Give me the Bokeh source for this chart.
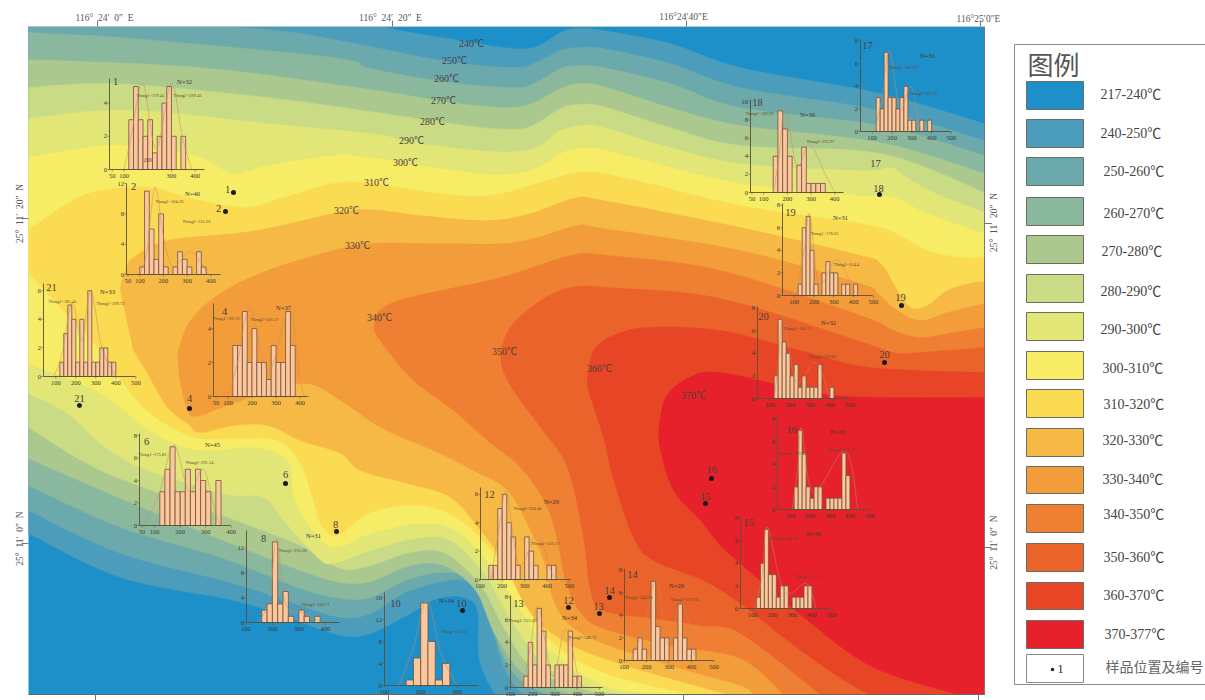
from bokeh.plotting import figure
from bokeh.embed import file_html
from bokeh.resources import INLINE
from bokeh.models import Range1d
from bokeh.core.properties import value
import math

# ---------- legend ----------
legend_labels = ["217-240℃","240-250℃","250-260℃","260-270℃","270-280℃","280-290℃","290-300℃",
                 "300-310℃","310-320℃","320-330℃","330-340℃","340-350℃","350-360℃","360-370℃","370-377℃"]
band_colors = ["#1e90c9","#4c9dbc","#6ca9ac","#8ab89e","#abc98e","#c9db85","#e2e676","#f6ec66",
               "#fbdb52","#f7b945","#f39c3a","#ee7f33","#e9632a","#e84527","#e6212c"]
legend_sample_label = "样品位置及编号"

# ---------- isotherms (upper edge and lower edge of the area hotter than T) ----------
iso_240_up = [(385,26),(400,30),(460,40),(503,47),(533,47),(560,32),(577,28),(603,30),(670,43),(740,67),(880,93),(984,123)]
iso_240_lo = [(28,533),(120,577),(233,600),(290,618),(340,635),(370,633),(410,613),(437,598),(463,597),(477,610),(478,653),(485,677),(495,694)]
iso_250_up = [(230,26),(300,33),(370,46),(453,62),(513,67),(533,63),(560,50),(577,47),(603,48),(670,63),(740,87),(880,110),(984,140)]
iso_250_lo = [(28,510),(120,553),(233,583),(300,605),(340,617),(370,613),(403,593),(437,582),(463,580),(483,595),(492,630),(505,670),(522,694)]
iso_260_up = [(28,32),(133,38),(333,57),(370,68),(450,82),(513,87),(533,83),(560,68),(577,65),(603,67),(670,83),(740,107),(880,125),(984,155)]
iso_260_lo = [(28,485),(120,527),(220,557),(300,588),(340,598),(370,597),(405,580),(440,572),(470,578),(490,610),(500,650),(520,680),(547,694)]
iso_270_up = [(28,59),(200,67),(370,89),(450,102),(507,107),(533,102),(560,88),(580,83),(603,86),(670,107),(740,125),(880,142),(984,173)]
iso_270_lo = [(28,458),(120,498),(210,535),(300,570),(340,582),(370,581),(410,565),(443,565),(475,590),(495,635),(525,675),(570,694)]
iso_280_up = [(28,87),(117,83),(267,97),(370,111),(450,123),(493,128),(527,127),(560,108),(577,104),(603,106),(670,127),(740,145),(880,153),(984,192)]
iso_280_lo = [(28,427),(100,470),(200,507),(300,545),(340,568),(370,565),(410,552),(445,553),(480,585),(505,630),(535,670),(600,694)]
iso_290_up = [(28,118),(100,110),(167,112),(267,123),(370,133),(420,143),(493,151),(533,148),(560,130),(583,125),(603,127),(670,147),(740,163),(860,170),(890,167),(903,175),(933,192),(984,212)]
iso_290_lo = [(28,393),(67,413),(100,443),(140,467),(223,493),(263,497),(283,520),(317,557),(333,563),(370,550),(415,538),(450,540),(485,575),(512,622),(545,665),(590,687),(627,694)]
iso_300_up = [(28,157),(100,145),(150,147),(200,157),(233,173),(267,165),(333,155),(370,157),(453,170),(503,174),(537,167),(567,150),(597,148),(637,158),(740,183),(860,195),(877,195),(897,198),(927,213),(984,233)]
iso_300_lo = [(28,363),(100,393),(153,433),(200,450),(253,447),(287,460),(293,493),(307,523),(333,547),(370,533),(420,523),(455,530),(490,565),(520,610),(550,650),(603,685),(657,694)]
iso_310_up = [(28,230),(67,203),(100,190),(150,187),(187,197),(243,207),(283,197),(333,183),(370,183),(437,193),(490,195),(537,183),(580,172),(623,177),(740,205),(860,223),(893,232),(927,250),(960,257),(984,257)]
iso_310_lo = [(28,272),(60,307),(100,350),(123,383),(143,407),(173,428),(200,438),(233,438),(277,440),(300,463),(313,500),(320,523),(337,535),(370,512),(420,505),(460,520),(495,555),(525,600),(550,640),(603,672),(690,694)]
iso_320_up = [(133,350),(122,300),(120,287),(125,270),(133,257),(167,240),(233,233),(267,228),(333,213),(370,209),(420,215),(487,220),(530,213),(573,198),(603,200),(740,227),(860,255),(880,263),(893,283),(903,300),(913,308),(927,305),(947,290),(973,282),(984,282)]
iso_320_lo = [(133,350),(147,373),(167,407),(187,423),(200,432),(233,425),(267,425),(300,440),(340,453),(360,470),(407,483),(450,497),(480,530),(505,565),(525,605),(550,632),(603,658),(727,694)]
iso_330_up = [(178,365),(178,350),(190,320),(220,293),(267,270),(333,250),(370,243),(437,243),(503,243),(537,237),(577,225),(603,228),(740,250),(860,283),(877,293),(897,310),(920,320),(947,312),(984,303)]
iso_330_lo = [(178,365),(180,383),(188,412),(200,415),(227,405),(300,383),(340,400),(380,427),(433,450),(473,470),(507,490),(530,530),(545,565),(553,600),(570,625),(603,643),(680,668),(740,685),(753,694)]
iso_340_up = [(373,330),(390,303),(500,277),(570,255),(607,255),(720,270),(860,315),(893,330),(920,337),(953,332),(984,327)]
iso_340_lo = [(373,330),(387,350),(413,380),(453,410),(487,440),(520,467),(545,503),(557,540),(565,580),(580,612),(603,628),(670,645),(740,658),(783,694)]
iso_350_up = [(500,353),(502,343),(513,323),(540,300),(570,287),(607,287),(720,298),(860,341),(893,352),(920,352),(984,347)]
iso_350_lo = [(500,353),(502,368),(513,390),(540,427),(567,467),(583,537),(590,590),(603,610),(653,618),(700,625),(740,633),(820,694)]
iso_360_up = [(587,378),(593,350),(613,335),(647,327),(720,330),(800,350),(870,367),(984,372)]
iso_360_lo = [(587,378),(588,390),(603,437),(612,475),(633,537),(653,560),(703,580),(740,603),(783,637),(833,673),(868,694)]
iso_370_up = [(658,430),(665,397),(687,378),(720,372),(820,393),(887,397),(984,397)]
iso_370_lo = [(658,430),(660,450),(673,490),(700,520),(720,545),(740,563),(807,620),(873,667),(957,694)]

iso_all = [(iso_240_up,iso_240_lo),(iso_250_up,iso_250_lo),(iso_260_up,iso_260_lo),(iso_270_up,iso_270_lo),
           (iso_280_up,iso_280_lo),(iso_290_up,iso_290_lo),(iso_300_up,iso_300_lo),(iso_310_up,iso_310_lo),
           (iso_320_up,iso_320_lo),(iso_330_up,iso_330_lo),(iso_340_up,iso_340_lo),(iso_350_up,iso_350_lo),
           (iso_360_up,iso_360_lo),(iso_370_up,iso_370_lo)]

iso_labels = ["240℃","250℃","260℃","270℃","280℃","290℃","300℃","310℃","320℃","330℃","340℃","350℃","360℃","370℃"]
iso_label_x = [471,454,446,443,432,411,405,376,346,357,379,504,599,693]
iso_label_y = [43,60,78,100,121,140,162,182,210,245,317,351,368,395]

# ---------- sample points ----------
pt_names = ["1","2","21","4","6","8","10","12","13","14","15","16","18","19","20"]
pt_x = [233,225,79,189,285,336,462,568,599,609,705,711,879,901,884]
pt_y = [192,211,405,408,483,531,610,607,613,597,503,478,194,305,362]
pt_lab_x = [227,218,79,189,285,335,461,568,598,609,705,711,878,900,884]
pt_lab_y = [189,208,398,398,474,524,603,600,606,590,496,469,188,297,354]

# ---------- histograms ----------
hist_ids = ["1","2","21","4","6","8","10","12","13","14","15","16","17","18","19","20"]
hist_n   = [32,40,33,37,45,31,34,29,34,29,30,33,31,36,31,32]
hist_start = [120,100,120,120,120,160,160,140,160,140,120,120,120,140,120,120]
counts = {
 "1":[3,5,3,2,3,1,2,4,5,2,0,2],
 "2":[1,11,6,2,8,1,0,1,3,2,1,0,3,1],
 "21":[1,3,5,4,1,4,1,6,1,1,2,2,1,1],
 "4":[3,3,5,2,4,2,2,1,3,2,2,5,3],
 "6":[3,5,7,3,3,5,3,5,4,3,0,4],
 "8":[2,3,13,3,5,1,0,2,1,0,1],
 "10":[1,5,15,8,1,4],
 "12":[1,1,5,6,4,3,1,0,3,2,1,0,0,1,1],
 "13":[1,4,2,7,5,2,0,2,2,2,5,1,1],
 "14":[1,2,1,0,7,3,2,2,0,2,5,2,1,1],
 "15":[1,4,7,3,3,1,2,2,0,1,1,1,2,2],
 "16":[2,7,5,2,1,2,2,0,1,1,1,1,5,3],
 "17":[3,2,7,3,3,2,3,4,1,1,0,1,0,1],
 "18":[4,9,7,4,0,3,5,1,1,1,1],
 "19":[1,6,7,4,1,0,2,3,2,2,0,1,1,0,1],
 "20":[2,7,5,4,2,3,1,2,1,1,1,3,0,0,1],
}
# faint fitted curve over each histogram: (temperature, count)
fit_curves = {
 "1":[(100,0),(130,2),(179,5.2),(235,1.2),(299,5.2),(345,2),(385,0)],
 "2":[(100,0),(130,3),(164,11.5),(200,5),(240,1),(315,3),(390,0)],
 "21":[(90,0),(130,1.5),(181,5.2),(230,2.5),(275,6),(330,2),(400,0)],
 "4":[(100,0),(140,2),(191,5.2),(270,1.5),(356,5.2),(400,1),(420,0)],
 "6":[(60,0),(120,3),(175,7.2),(235,3),(291,5),(340,1),(360,0)],
 "8":[(150,0),(190,4),(216,13.5),(250,3),(318,1.5),(390,0)],
 "10":[(140,0),(180,7),(217,15.5),(255,6),(300,0)],
 "12":[(150,0),(190,4),(220,6.2),(275,1),(356,3.2),(420,0.5),(450,0)],
 "13":[(150,0),(190,3.5),(225,7.2),(290,1),(348,5.2),(410,0.5),(430,0)],
 "14":[(130,0),(190,3),(244,7.2),(295,1.5),(357,5.2),(420,0)],
 "15":[(110,0),(150,3),(175,7.2),(260,1.5),(373,2.2),(420,0)],
 "16":[(110,0),(140,4),(157,7.2),(215,1.5),(377,5.2),(440,0)],
 "17":[(110,0),(150,3),(186,7.2),(240,2),(295,4),(340,0.5),(360,0)],
 "18":[(140,0),(165,4),(190,9.3),(240,3),(294,5.3),(360,2),(400,0)],
 "19":[(110,0),(150,4),(178,7.2),(225,1),(314,3.2),(400,0.5),(430,0)],
 "20":[(120,0),(140,3),(166,7.2),(230,1.5),(330,3.2),(400,0)],
}
x_tick_vals = {
 "1":[50,100,300,400],"2":[50,100,200,300,400],"21":[100,200,300,400,500],"4":[50,100,200,300,400],
 "6":[50,100,200,300,400],"8":[100,200,300,400],"10":[100,200,300],"12":[100,200,300,400,500],
 "13":[100,200,300,400,500],"14":[100,200,300,400,500],"15":[100,200,300,400,500],"16":[100,200,300,400,500],
 "17":[100,200,300,400,500],"18":[50,100,200,300,400],"19":[100,200,300,400,500],"20":[100,200,300,400,500],
}
y_tick_vals = {
 "1":[0,2,4],"2":[0,4,8,12],"21":[0,2,4,6],"4":[0,2,4],"6":[0,2,4,6,8],"8":[0,4,8,12],"10":[0,4,8,12,16],
 "12":[0,2,4,6],"13":[0,2,4,6,8],"14":[0,2,4,6,8],"15":[0,2,4,6,8],"16":[0,2,4,6,8],"17":[0,2,4,6,8],
 "18":[0,2,4,6,8,10],"19":[0,2,4,6,8],"20":[0,2,4,6,8],
}
th_text = {
 "1":("Thmg1=179.45","Thmg2=299.43"),"2":("Thmg1=164.26","Thmg2=315.26"),"21":("Thmg1=181.45","Thmg2=299.72"),
 "4":("Thmg1=191.67","Thmg2=356.57"),"6":("Thmg1=175.81","Thmg2=291.14"),"8":("Thmg1=216.38","Thmg2=318.71"),
 "10":(None,"Thmg=217.31"),"12":("Thmg1=220.40","Thmg2=356.17"),"13":("Thmg1=225.09","Thmg2=348.72"),
 "14":("Thmg1=244.98","Thmg2=357.66"),"15":("Thmg1=203.74","Thmg2=373.5"),"16":("Thmg1=157.04","Thmg2=377.41"),
 "17":("Thmg1=185.97","Thmg2=295.57"),"18":("Thmg1=189.99","Thmg2=293.97"),"19":("Thmg1=178.05","Thmg2=314.4"),
 "20":("Thmg1=166.71","Thmg2=329.82"),
}

# placement: axis_x, base_y, px per count, first bar px, px per unit, x axis end, y axis top,
# id label xy, N label xy, th1 xy, th2 xy
layout = {
 "1":(109,169,16.6,128.3,.237,204,78,(115,81),(184,81),(150,95),(187,95)),
 "2":(126,274,7.58,139.3,.2367,220,183,(133,186),(192,193),(169,201),(196,221)),
 "21":(43,376,14.3,59.3,.2,135,283,(51,287),(107,291),(62,301),(110,303)),
 "4":(213,396,17,232.3,.24,308,303,(224,311),(283,307),(226,318),(264,319)),
 "6":(139,525,11.25,159.3,.255,230,433,(146,441),(212,444),(152,454),(199,462)),
 "8":(246,622,6.2,261.3,.265,339,530,(263,538),(313,535),(292,550),(315,604)),
 "10":(384,685,5.5,405.7,.363,478,592,(395,603),(446,600),None,(454,631)),
 "12":(480,579,14.2,488.3,.224,570,487,(489,494),(551,501),(527,508),(545,543)),
 "13":(510,687,11.3,523.3,.222,602,595,(518,603),(569,617),(522,620),(582,637)),
 "14":(624,660,11.3,632.7,.224,713,568,(632,574),(676,585),(638,597),(684,599)),
 "15":(740,608,11.3,756,.198,830,515,(748,522),(813,533),(783,538),(807,576)),
 "16":(777,509,11.3,793.7,.199,868,417,(791,429),(837,431),(792,453),(841,449)),
 "17":(860,131,11.3,875.7,.198,950,39,(867,45),(927,55),(903,67),(923,93)),
 "18":(750,192,9.07,772.7,.2367,843,99,(757,102),(807,114),(759,113),(820,141)),
 "19":(782,295,11.3,797.7,.198,872,203,(790,212),(840,217),(824,233),(846,264)),
 "20":(757,398,11.3,773.7,.199,848,306,(763,316),(828,322),(797,328),(822,356)),
}

BIN = 20
SERIF = value("Liberation Serif, Noto Sans CJK SC")
CJK = value("Noto Sans CJK SC")
NB = "\u00a0"

def spline(pts, n=10):
    P = [pts[0]] + list(pts) + [pts[-1]]
    out = []
    for i in range(1, len(P) - 2):
        p0, p1, p2, p3 = P[i-1], P[i], P[i+1], P[i+2]
        for k in range(n):
            t = k / n
            out.append(tuple(0.5 * (2*p1[c] + (p2[c]-p0[c])*t + (2*p0[c]-5*p1[c]+4*p2[c]-p3[c])*t*t
                                    + (3*p1[c]-p0[c]-3*p2[c]+p3[c])*t**3) for c in (0, 1)))
    out.append(pts[-1])
    return out

def smooth(pts):
    return [(min(984, max(28, x)), min(694, max(26, y))) for x, y in spline(pts)]

W, H = 1205, 700
p = figure(width=W, height=H, x_range=Range1d(0, W), y_range=Range1d(H, 0),
           output_backend="svg", toolbar_location=None, min_border=0, outline_line_color=None)
p.axis.visible = False
p.grid.visible = False
p.background_fill_color = "white"
p.border_fill_color = "white"

# map
p.quad(left=[28], right=[984], top=[26], bottom=[694], fill_color=band_colors[0], line_color=None)
for (up, lo), col in zip(iso_all, band_colors[1:]):
    U, L = smooth(up), smooth(lo)
    poly = []
    if U[0][1] == 26 and U[0][0] > 28:
        poly.append((28, 26))
    poly += U
    poly.append((984, 694))
    poly += L[::-1]
    p.patch([q[0] for q in poly], [q[1] for q in poly], fill_color=col, line_color=col, line_width=0.3)

# frame and ticks
p.segment(x0=[984, 28, 28], y0=[26, 694, 26], x1=[984, 984, 984], y1=[694, 694, 26],
          line_color=["#777777", "#666666", "#cccccc"], line_width=[1, 1.2, 0.8])
p.segment(x0=[97,392,686,980,95,388,683,978,21,21,984,984], y0=[20,20,20,20,694,694,694,694,218,543,223,547],
          x1=[97,392,686,980,95,388,683,978,28,28,991,991], y1=[26,26,26,26,700,700,700,700,218,543,223,547],
          line_color="#777777", line_width=1)
sp = NB * 2
p.text(x=[104,390,683,978], y=[17,17,16,18],
       text=[f"116°{sp}24′{sp}0″{sp}E", f"116°{sp}24′{sp}20″{sp}E", "116°24′40″E", "116°25′0″E"],
       text_font=SERIF, text_font_size="9.5px", text_color="#555555", text_align="center", text_baseline="middle")
p.text(x=[19,19,993,993], y=[213,538,222,542],
       text=[f"25°{sp}11′{sp}20″{sp}N", f"25°{sp}11′{sp}0″{sp}N", f"25°{sp}11′{sp}20″{sp}N", f"25°{sp}11′{sp}0″{sp}N"],
       angle=math.pi/2, text_font=SERIF, text_font_size="9.5px", text_color="#555555",
       text_align="center", text_baseline="middle")

# isotherm labels
p.text(x=iso_label_x, y=iso_label_y, text=iso_labels, text_font=SERIF, text_font_size="10px",
       text_color="#4a4038", text_align="center", text_baseline="middle")

# histograms
for hid, n, start in zip(hist_ids, hist_n, hist_start):
    ax, by, cpx, x0px, upx, xend, ytop, idp, np_, t1, t2 = layout[hid]
    xr = f"hx{hid}"; yr = f"hy{hid}"
    p.extra_x_ranges[xr] = Range1d(start + (0 - x0px) / upx, start + (W - x0px) / upx)
    p.extra_y_ranges[yr] = Range1d((by - H) / cpx, by / cpx)
    c = counts[hid]
    left = [start + i * BIN for i, v in enumerate(c) if v > 0]
    top = [v for v in c if v > 0]
    p.quad(left=left, right=[l + BIN for l in left], top=top, bottom=[0] * len(top),
           fill_color="#fbc79c", line_color="#74503c", line_width=0.8,
           x_range_name=xr, y_range_name=yr)
    curve = [(x, max(0, y)) for x, y in spline(fit_curves[hid], 8)]
    p.line([q[0] for q in curve], [q[1] for q in curve], line_color="#c78a62", line_width=0.5,
           x_range_name=xr, y_range_name=yr)
    xtv = x_tick_vals[hid]; ytv = y_tick_vals[hid]
    axis_col = "#5a5038"
    p.segment(x0=[ax, ax], y0=[by, by], x1=[xend, ax], y1=[by, ytop], line_color=axis_col, line_width=0.9)
    tx = [x0px + (v - start) * upx for v in xtv]
    p.segment(x0=tx, y0=[by] * len(tx), x1=tx, y1=[by + 2] * len(tx), line_color=axis_col, line_width=0.6)
    ty = [by - v * cpx for v in ytv]
    p.segment(x0=[ax - 2] * len(ty), y0=ty, x1=[ax] * len(ty), y1=ty, line_color=axis_col, line_width=0.6)
    p.text(x=xtv, y=[0] * len(xtv), text=[str(v) for v in xtv], y_offset=6, text_font=SERIF, text_font_size="6.5px",
           text_color="#3a3a30", text_align="center", text_baseline="middle", x_range_name=xr, y_range_name=yr)
    p.text(x=[ax - 2.5] * len(ty), y=ty, text=[str(v) for v in ytv], text_font=SERIF, text_font_size="6.5px",
           text_color="#3a3a30", text_align="right", text_baseline="middle")
    p.text(x=[idp[0]], y=[idp[1]], text=[hid], text_font=SERIF, text_font_size="10.5px", text_color="#4a4038",
           text_align="center", text_baseline="middle")
    p.text(x=[np_[0]], y=[np_[1]], text=[f"N={n}"], text_font=SERIF, text_font_size="6.5px", text_color="#3a3530",
           text_align="center", text_baseline="middle")
    for pos, s in zip((t1, t2), th_text[hid]):
        if pos and s:
            p.text(x=[pos[0]], y=[pos[1]], text=[s], text_font=SERIF, text_font_size="4.5px", text_color="#5c4a30",
                   text_align="center", text_baseline="middle")

# stray axis figure printed inside histogram 1
p.text(x=[147], y=[159], text=["200"], text_font=SERIF, text_font_size="5.5px", text_color="#5c4a30",
       text_align="center", text_baseline="middle")

# sample points
p.scatter(x=pt_x, y=pt_y, size=5, marker="circle", fill_color="#1a1a1a", line_color=None)
p.text(x=pt_lab_x, y=pt_lab_y, text=pt_names, text_font=SERIF, text_font_size="10.5px", text_color="#4a4038",
       text_align="center", text_baseline="middle")
p.text(x=[875], y=[163], text=["17"], text_font=SERIF, text_font_size="10.5px", text_color="#4a4038",
       text_align="center", text_baseline="middle")

# legend
p.segment(x0=[1014, 1014, 1014], y0=[44, 44, 684], x1=[1205, 1014, 1205], y1=[44, 684, 684],
          line_color="#8a8a8a", line_width=1)
swatch_top = [81,119,157,197,235,274,312,351,389,428,466,504,543,582,620]
swatch_bot = [109,147,185,225,263,302,340,379,417,456,493,532,571,609,648]
label_left = [1100,1100,1103,1103,1101,1100,1100,1102,1103,1102,1102,1103,1103,1103,1104]
label_mid = [94,133,171,213,251,291,329,368,404,440,479,514,557,595,634]
p.quad(left=[1026]*15, right=[1083]*15, top=swatch_top, bottom=swatch_bot, fill_color=band_colors,
       line_color="#6e6e60", line_width=1)
p.text(x=label_left, y=label_mid, text=legend_labels, text_font=SERIF, text_font_size="14px", text_color="#444444",
       text_align="left", text_baseline="middle")
p.text(x=[1053], y=[63], text=["图例"], text_font=CJK, text_font_size="26px", text_color="#555555",
       text_align="center", text_baseline="middle")
p.quad(left=[1026], right=[1083], top=[654], bottom=[682], fill_color="white", line_color="#8a8a8a", line_width=1)
p.scatter(x=[1052], y=[669], size=3.5, marker="circle", fill_color="#222222", line_color=None)
p.text(x=[1060], y=[668], text=["1"], text_font=SERIF, text_font_size="13px", text_color="#333333",
       text_align="center", text_baseline="middle")
p.text(x=[1105], y=[665], text=[legend_sample_label], text_font=CJK, text_font_size="14px", text_color="#666666",
       text_align="left", text_baseline="middle")

open("out.html", "w").write(file_html(p, INLINE))
